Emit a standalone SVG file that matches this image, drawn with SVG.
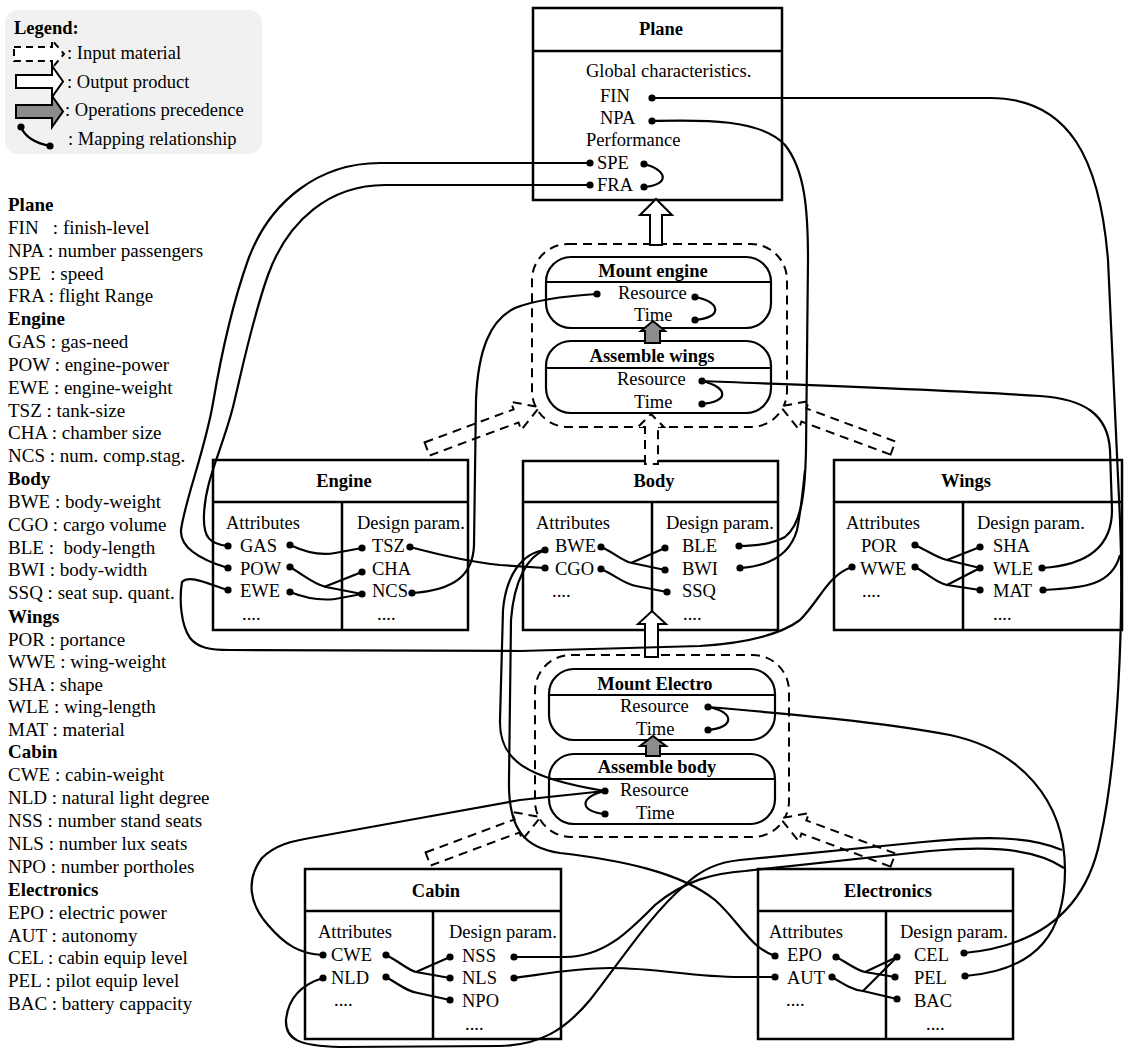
<svg xmlns="http://www.w3.org/2000/svg" width="1125" height="1053" viewBox="0 0 1125 1053">
<defs>
<style>
text{font-family:"Liberation Serif","Times New Roman",Tinos,serif;font-size:18.5px;fill:#000}
.b{font-weight:bold}
.t{font-weight:bold;text-anchor:middle}
.list text{font-size:19px;white-space:pre}
.box{fill:#fff;stroke:#000;stroke-width:2.5}
.ln{fill:none;stroke:#000;stroke-width:2.5}
.op{fill:#fff;stroke:#000;stroke-width:2.2}
.cont{fill:none;stroke:#000;stroke-width:2;stroke-dasharray:9 6}
.in{fill:#fff;stroke:#000;stroke-width:2;stroke-dasharray:9 6}
.out{fill:#fff;stroke:#000;stroke-width:2}
.prec{fill:#8c8c8c;stroke:#000;stroke-width:2}
.con{fill:none;stroke:#000;stroke-width:2.2}
circle{fill:#000}
</style>
<polygon id="inArrow" points="0,-7 95,-7 95,-15 120,0 95,15 95,7 0,7"/>
</defs>
<rect width="1125" height="1053" fill="#fff"/>

<g id="legend">
<rect x="5" y="10" width="257" height="144" rx="13" fill="#f1f1f1"/>
<text x="14" y="34" class="b">Legend:</text>
<polygon points="14,47 52,47 52,40 64,54 52,68 52,61 14,61" fill="#fff" stroke="#000" stroke-width="2" stroke-dasharray="7 5"/>
<text x="67" y="59">: Input material</text>
<polygon class="out" points="16,75 52,75 52,66 63,81.5 52,97 52,88 16,88"/>
<text x="67" y="88">: Output product</text>
<polygon class="prec" points="16,105 52,105 52,96 63,111.5 52,127 52,118 16,118"/>
<text x="65" y="116">: Operations precedence</text>
<path class="con" d="M21,127 C25,137 35,143 50,146"/>
<circle cx="21" cy="127" r="3.6"/><circle cx="50" cy="146" r="3.6"/>
<text x="68" y="145">: Mapping relationship</text>
</g>

<g id="abbreviations" class="list">
<text x="8" y="211" class="b">Plane</text>
<text x="8" y="233.8">FIN   : finish-level</text>
<text x="8" y="256.7">NPA : number passengers</text>
<text x="8" y="279.5">SPE  : speed</text>
<text x="8" y="302.3">FRA : flight Range</text>
<text x="8" y="325.2" class="b">Engine</text>
<text x="8" y="348">GAS : gas-need</text>
<text x="8" y="370.8">POW : engine-power</text>
<text x="8" y="393.6">EWE : engine-weight</text>
<text x="8" y="416.5">TSZ : tank-size</text>
<text x="8" y="439.3">CHA : chamber size</text>
<text x="8" y="462.1">NCS : num. comp.stag.</text>
<text x="8" y="485" class="b">Body</text>
<text x="8" y="507.8">BWE : body-weight</text>
<text x="8" y="530.6">CGO : cargo volume</text>
<text x="8" y="553.5">BLE :  body-length</text>
<text x="8" y="576.3">BWI : body-width</text>
<text x="8" y="599.1">SSQ : seat sup. quant.</text>
<text x="8" y="623" class="b">Wings</text>
<text x="8" y="645.5">POR : portance</text>
<text x="8" y="668">WWE : wing-weight</text>
<text x="8" y="690.6">SHA : shape</text>
<text x="8" y="713.3">WLE : wing-length</text>
<text x="8" y="736">MAT : material</text>
<text x="8" y="758" class="b">Cabin</text>
<text x="8" y="781">CWE : cabin-weight</text>
<text x="8" y="804">NLD : natural light degree</text>
<text x="8" y="827">NSS : number stand seats</text>
<text x="8" y="850">NLS : number lux seats</text>
<text x="8" y="873">NPO : number portholes</text>
<text x="8" y="895.9" class="b">Electronics</text>
<text x="8" y="918.7">EPO : electric power</text>
<text x="8" y="941.6">AUT : autonomy</text>
<text x="8" y="964.4">CEL : cabin equip level</text>
<text x="8" y="987.2">PEL : pilot equip level</text>
<text x="8" y="1010">BAC : battery cappacity</text>
</g>

<g id="plane">
<rect class="box" x="533" y="8" width="249" height="192"/>
<line class="ln" x1="533" y1="51" x2="782" y2="51"/>
<text x="661" y="35" class="t">Plane</text>
<text x="586" y="77">Global characteristics.</text>
<text x="600" y="102">FIN</text><circle cx="652" cy="98" r="3.6"/>
<text x="600" y="124">NPA</text><circle cx="652" cy="121" r="3.6"/>
<text x="586" y="146">Performance</text>
<circle cx="590" cy="163" r="3.6"/><text x="597" y="169">SPE</text><circle cx="644" cy="164" r="3.6"/>
<circle cx="590" cy="185" r="3.6"/><text x="597" y="191">FRA</text><circle cx="644" cy="187" r="3.6"/>
</g>

<g id="op-group-top">
<rect class="cont" x="532" y="244" width="255" height="183" rx="36"/>
</g>
<g id="mount-engine">
<rect class="op" x="546" y="257" width="225" height="71" rx="25"/>
<line class="op" x1="546" y1="282" x2="771" y2="282"/>
<text x="653" y="277" class="t">Mount engine</text>
<circle cx="597" cy="294" r="3.6"/><text x="618" y="299">Resource</text><circle cx="695" cy="297" r="3.6"/>
<text x="634" y="321">Time</text><circle cx="695" cy="320" r="3.6"/>
</g>
<g id="assemble-wings">
<rect class="op" x="546" y="341" width="225" height="72" rx="25"/>
<line class="op" x1="546" y1="368" x2="771" y2="368"/>
<text x="652" y="362" class="t">Assemble wings</text>
<text x="617" y="385">Resource</text><circle cx="702" cy="381" r="3.6"/>
<text x="634" y="408">Time</text><circle cx="702" cy="404" r="3.6"/>
</g>

<g id="op-group-bottom">
<rect class="cont" x="535" y="655" width="254" height="182" rx="36"/>
</g>
<g id="mount-electro">
<rect class="op" x="549" y="669" width="226" height="71" rx="25"/>
<line class="op" x1="549" y1="695" x2="775" y2="695"/>
<text x="655" y="690" class="t">Mount Electro</text>
<text x="620" y="712">Resource</text><circle cx="708" cy="707" r="3.6"/>
<text x="636" y="735">Time</text><circle cx="708" cy="730" r="3.6"/>
</g>
<g id="assemble-body">
<rect class="op" x="549" y="754" width="226" height="70" rx="25"/>
<line class="op" x1="549" y1="779" x2="775" y2="779"/>
<text x="657" y="773" class="t">Assemble body</text>
<circle cx="605" cy="791" r="3.6"/><text x="620" y="796">Resource</text>
<circle cx="605" cy="814" r="3.6"/><text x="636" y="819">Time</text>
</g>

<g id="engine">
<rect class="box" x="213" y="460" width="255" height="170"/>
<line class="ln" x1="213" y1="502" x2="468" y2="502"/>
<line class="ln" x1="342" y1="502" x2="342" y2="630"/>
<text x="344" y="487" class="t">Engine</text>
<text x="226" y="529">Attributes</text>
<text x="357" y="529">Design param.</text>
<circle cx="228" cy="546" r="3.6"/><text x="240" y="552">GAS</text><circle cx="290" cy="545" r="3.6"/>
<circle cx="228" cy="568" r="3.6"/><text x="240" y="575">POW</text><circle cx="290" cy="567" r="3.6"/>
<circle cx="228" cy="590" r="3.6"/><text x="240" y="597">EWE</text><circle cx="290" cy="592" r="3.6"/>
<text x="242" y="620">....</text>
<circle cx="362" cy="548" r="3.6"/><text x="372" y="552">TSZ</text><circle cx="410" cy="547" r="3.6"/>
<circle cx="362" cy="572" r="3.6"/><text x="372" y="575">CHA</text>
<circle cx="362" cy="594" r="3.6"/><text x="372" y="597">NCS</text><circle cx="412" cy="593" r="3.6"/>
<text x="377" y="620">....</text>
</g>

<g id="body">
<rect class="box" x="523" y="461" width="255" height="169"/>
<line class="ln" x1="523" y1="502" x2="778" y2="502"/>
<line class="ln" x1="652" y1="502" x2="652" y2="630"/>
<text x="654" y="487" class="t">Body</text>
<text x="536" y="529">Attributes</text>
<text x="666" y="529">Design param.</text>
<circle cx="545" cy="550" r="3.6"/><text x="555" y="552">BWE</text><circle cx="601" cy="547" r="3.6"/>
<circle cx="545" cy="568" r="3.6"/><text x="555" y="575">CGO</text><circle cx="601" cy="569" r="3.6"/>
<text x="552" y="597">....</text>
<circle cx="665" cy="548" r="3.6"/><text x="682" y="552">BLE</text><circle cx="739" cy="546" r="3.6"/>
<circle cx="665" cy="570" r="3.6"/><text x="682" y="575">BWI</text><circle cx="740" cy="568" r="3.6"/>
<circle cx="667" cy="592" r="3.6"/><text x="682" y="597">SSQ</text>
<text x="683" y="620">....</text>
</g>

<g id="wings">
<rect class="box" x="834" y="460" width="288" height="170"/>
<line class="ln" x1="834" y1="502" x2="1122" y2="502"/>
<line class="ln" x1="963" y1="502" x2="963" y2="630"/>
<text x="966" y="487" class="t">Wings</text>
<text x="846" y="529">Attributes</text>
<text x="977" y="529">Design param.</text>
<text x="861" y="552">POR</text><circle cx="915" cy="545" r="3.6"/>
<circle cx="852" cy="567" r="3.6"/><text x="860" y="575">WWE</text><circle cx="915" cy="567" r="3.6"/>
<text x="862" y="597">....</text>
<circle cx="980" cy="547" r="3.6"/><text x="993" y="552">SHA</text>
<circle cx="980" cy="568" r="3.6"/><text x="993" y="575">WLE</text><circle cx="1042" cy="568" r="3.6"/>
<circle cx="980" cy="590" r="3.6"/><text x="993" y="597">MAT</text><circle cx="1043" cy="590" r="3.6"/>
<text x="993" y="620">....</text>
</g>

<g id="cabin">
<rect class="box" x="305" y="869" width="256" height="170"/>
<line class="ln" x1="305" y1="911" x2="561" y2="911"/>
<line class="ln" x1="433" y1="911" x2="433" y2="1039"/>
<text x="436" y="897" class="t">Cabin</text>
<text x="318" y="938">Attributes</text>
<text x="449" y="938">Design param.</text>
<circle cx="323" cy="955" r="3.6"/><text x="331" y="961">CWE</text><circle cx="386" cy="955" r="3.6"/>
<circle cx="323" cy="978" r="3.6"/><text x="331" y="984">NLD</text><circle cx="386" cy="977" r="3.6"/>
<text x="334" y="1006">....</text>
<circle cx="450" cy="957" r="3.6"/><text x="462" y="962">NSS</text><circle cx="514" cy="957" r="3.6"/>
<circle cx="450" cy="978" r="3.6"/><text x="462" y="984">NLS</text><circle cx="514" cy="978" r="3.6"/>
<circle cx="450" cy="1000" r="3.6"/><text x="462" y="1007">NPO</text>
<text x="465" y="1030">....</text>
</g>

<g id="electronics">
<rect class="box" x="758" y="869" width="255" height="170"/>
<line class="ln" x1="758" y1="911" x2="1013" y2="911"/>
<line class="ln" x1="886" y1="911" x2="886" y2="1039"/>
<text x="888" y="897" class="t">Electronics</text>
<text x="769" y="938">Attributes</text>
<text x="900" y="938">Design param.</text>
<circle cx="775" cy="956" r="3.6"/><text x="787" y="961">EPO</text><circle cx="836" cy="957" r="3.6"/>
<circle cx="775" cy="977" r="3.6"/><text x="787" y="984">AUT</text><circle cx="832" cy="977" r="3.6"/>
<text x="786" y="1006">....</text>
<circle cx="897" cy="957" r="3.6"/><text x="914" y="961">CEL</text><circle cx="964" cy="953" r="3.6"/>
<circle cx="895" cy="977" r="3.6"/><text x="914" y="984">PEL</text><circle cx="965" cy="976" r="3.6"/>
<circle cx="897" cy="999" r="3.6"/><text x="914" y="1007">BAC</text>
<text x="926" y="1030">....</text>
</g>

<g id="connectors">
<use href="#inArrow" class="in" transform="translate(427,449) rotate(-20.4)"/>
<use href="#inArrow" class="in" transform="translate(893,448) rotate(200.3)"/>
<polygon class="in" points="645,464 645,427 638,427 651,414 664,427 658,427 658,464"/>
<use href="#inArrow" class="in" transform="translate(428,859) rotate(-20.4)"/>
<use href="#inArrow" class="in" transform="translate(893,860) rotate(200.3)"/>
<polygon class="out" points="650,245 650,215 640,215 656,199 672,215 662,215 662,245"/>
<polygon class="out" points="645,657 645,624 638,624 652,611 666,624 658,624 658,657"/>
<polygon class="prec" points="645,343 645,331 641,331 653,321 665,331 660,331 660,343"/>
<polygon class="prec" points="646,756 646,746 640,746 653,736 666,746 660,746 660,756"/>

<path class="con" d="M644,164 C668,170 670,185 644,187"/>
<path class="con" d="M695,297 C722,302 722,318 695,320"/>
<path class="con" d="M702,381 C730,388 728,402 702,404"/>
<path class="con" d="M708,707 C736,712 734,728 708,730"/>
<path class="con" d="M605,791 C578,797 580,812 605,814"/>
<path class="con" d="M290,545 C305,552 320,556 335,553 L362,548"/>
<path class="con" d="M290,567 C305,576 313,584 326,587 L362,594"/>
<path class="con" d="M362,572 L324,587"/>
<path class="con" d="M290,592 C305,598 318,601 335,599 L362,594"/>
<path class="con" d="M601,547 C615,553 622,561 632,563 L665,570"/>
<path class="con" d="M665,548 L631,563"/>
<path class="con" d="M601,569 C615,575 624,584 636,586 L667,592"/>
<path class="con" d="M915,545 C930,552 937,558 947,560 L980,568"/>
<path class="con" d="M980,547 L947,560"/>
<path class="con" d="M915,567 C930,575 937,583 947,585 L980,590"/>
<path class="con" d="M980,568 L947,585"/>
<path class="con" d="M386,955 C400,962 408,970 416,972 L450,978"/>
<path class="con" d="M450,957 L416,972"/>
<path class="con" d="M386,977 C400,985 408,992 418,993 L450,1000"/>
<path class="con" d="M836,957 C848,963 856,970 865,972 L895,977"/>
<path class="con" d="M832,977 C845,985 853,990 863,991 L897,999"/>
<path class="con" d="M897,957 L865,972"/>
<path class="con" d="M897,957 L863,991"/>

<path class="con" d="M652,98 L990,98 C1070,98 1100,160 1108,260 L1120,520 C1124,620 1118,760 1100,840 C1088,900 1050,945 964,953"/>
<path class="con" d="M1043,590 C1085,588 1112,585 1120,555"/>
<path class="con" d="M702,381 C800,385 950,390 1040,396 C1085,399 1108,415 1110,450 L1112,510 C1112,545 1090,565 1042,568"/>
<path class="con" d="M652,121 C700,120 760,118 785,145 C805,170 808,210 808,260 L806,450 C805,500 800,525 785,537 C772,544 755,546 739,546"/>
<path class="con" d="M740,568 C770,566 790,555 797,530 C800,515 803,490 805,470"/>
<path class="con" d="M590,163 L380,163 C320,163 270,200 248,260 C232,305 222,350 213,403 C205,450 185,500 181,530 C180,545 195,558 228,568"/>
<path class="con" d="M590,185 L385,185 C330,185 288,220 268,275 C252,320 242,370 233,407 C222,450 205,480 204,515 C203,538 210,544 228,546"/>
<path class="con" d="M228,590 C210,585 190,574 182,582 C179,600 181,625 190,638 C198,648 210,650 230,650 L520,651 L700,646 C745,643 780,635 800,620 C820,600 828,575 852,567"/>
<path class="con" d="M597,294 C565,296 535,300 515,308 C490,320 478,350 476,400 L474,545 C473,575 455,590 412,593"/>
<path class="con" d="M410,547 C440,555 470,562 500,565 L545,568"/>
<path class="con" d="M545,550 C522,553 506,575 503,610 L500,720 C499,760 525,778 605,791"/>
<path class="con" d="M545,550 C528,556 514,580 511,620 L509,780 C508,830 525,848 560,853 C620,860 680,872 715,900 C738,920 750,948 775,956"/>
<path class="con" d="M323,955 C300,954 285,945 268,925 C250,905 245,880 262,858 C275,845 292,841 310,838 C380,826 450,812 520,800 L605,791"/>
<path class="con" d="M323,978 C300,985 288,1000 286,1020 C285,1040 300,1046 340,1047 L500,1046 C540,1045 565,1030 590,1000 C620,962 650,915 685,885 C702,868 720,862 740,860 L923,842 C985,836 1030,836 1062,850"/>
<path class="con" d="M514,957 L565,957 C605,957 630,930 655,905 C685,880 715,873 745,871 L930,851 C975,847 1030,845 1064,868"/>
<path class="con" d="M514,978 C545,974 575,968 610,968 C660,968 690,977 740,977 L775,977"/>
<path class="con" d="M708,707 C800,715 880,722 950,735 C1020,750 1065,800 1065,870 C1065,930 1040,970 965,976"/>
</g>
</svg>
